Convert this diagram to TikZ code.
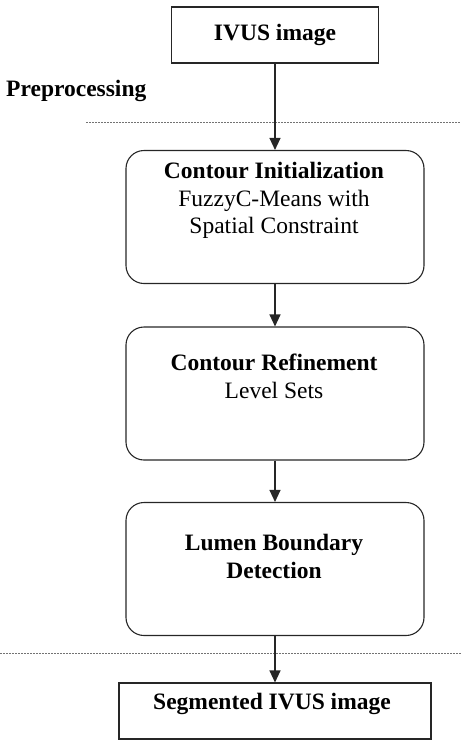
\documentclass[tikz,border=0pt]{standalone}
\usepackage{fontspec}
\setmainfont{Liberation Serif}
\usetikzlibrary{arrows.meta}
\tikzset{
  x=1pt, y=-1pt,
  boxline/.style={draw=black!85, line width=1.1pt},
  sqbox/.style={boxline, rectangle, inner sep=0pt},
  rbox/.style={boxline, rectangle, rounded corners=18pt, inner sep=0pt, minimum width=298pt, minimum height=133pt},
  txt/.style={inner sep=0pt, align=center, font=\fontsize{23.5}{27.5}\selectfont},
  arr/.style={draw=black!85, line width=1.1pt, -{Triangle[length=12pt,width=11pt]}},
  sep/.style={draw=black!55, line width=1pt, dash pattern=on 2pt off 1pt},
}
\begin{document}
\begin{tikzpicture}
\useasboundingbox (0,0) rectangle (461,740);
% boxes
\node[sqbox, minimum width=207pt, minimum height=56pt] (ivus) at (275,35) {};
\node[rbox] (b1) at (275,217) {};
\node[rbox] (b2) at (275,393.5) {};
\node[rbox] (b3) at (275,569) {};
\node[sqbox, minimum width=312pt, minimum height=56pt] (seg) at (275,711) {};
% texts
\node[txt, anchor=base] (ivust) at (275,40) {\textbf{IVUS image}};
\node[txt, anchor=base west] (pre) at (6,96) {\textbf{Preprocessing}};
\node[txt, anchor=north] (t1) at (274,162) {\textbf{Contour Initialization}\\FuzzyC-Means with\\Spatial Constraint};
\node[txt, anchor=north] (t2) at (274,354) {\textbf{Contour Refinement}\\Level Sets};
\node[txt, anchor=north] (t3) at (274,534) {\textbf{Lumen Boundary}\\\textbf{Detection}};
\node[txt, anchor=base] (segt) at (272,709) {\textbf{Segmented IVUS image}};
% separators
\coordinate (s1a) at (86,122);
\coordinate (s1b) at (461,122);
\coordinate (s2a) at (0,653);
\coordinate (s2b) at (461,653);
\draw[sep] (s1a) -- (s1b);
\draw[sep] (s2a) -- (s2b);
% arrows
\draw[arr] (ivus.south) -- (b1.north);
\draw[arr] (b1.south) -- (b2.north);
\draw[arr] (b2.south) -- (b3.north);
\draw[arr] (b3.south) -- (seg.north);
\end{tikzpicture}
\end{document}
